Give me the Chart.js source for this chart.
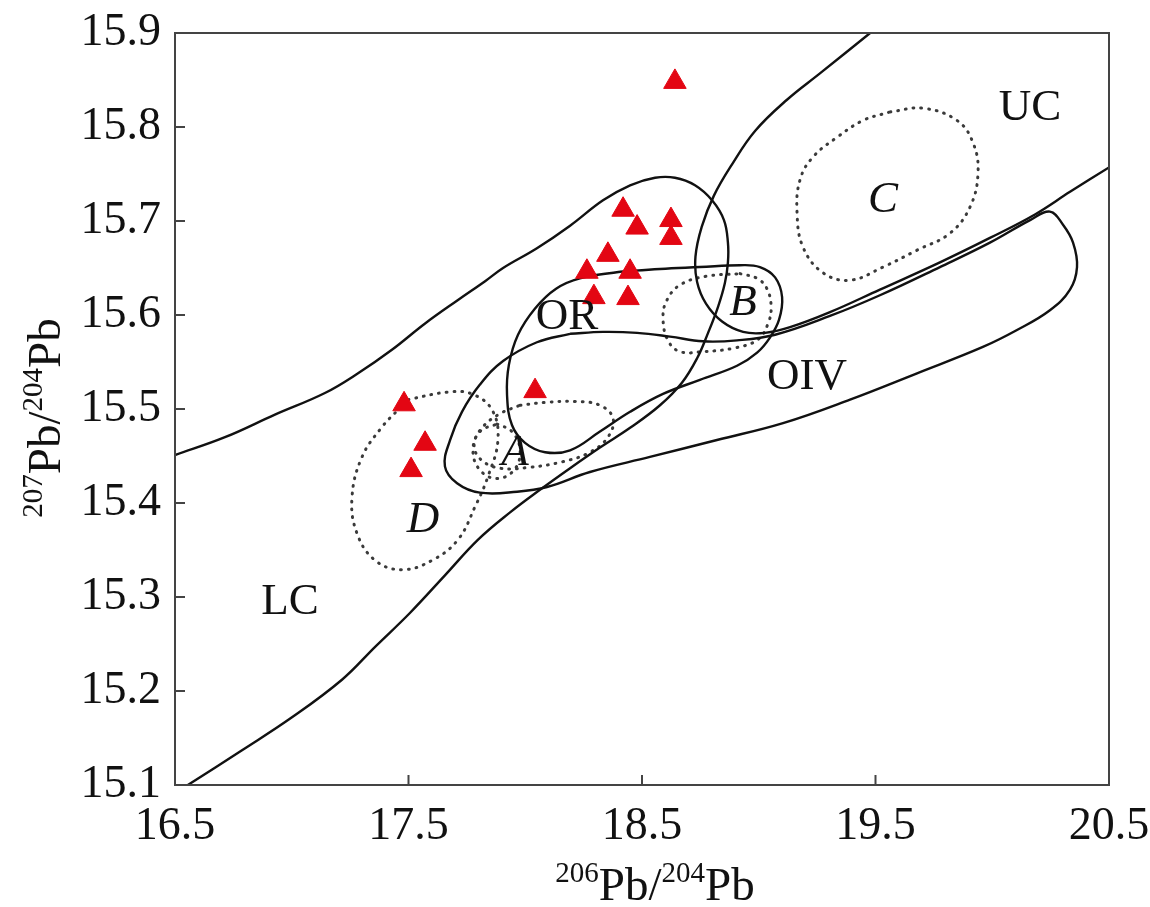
<!DOCTYPE html>
<html>
<head>
<meta charset="utf-8">
<script src="https://cdn.jsdelivr.net/npm/chart.js@4.4.1/dist/chart.umd.min.js"></script>
<style>
  html, body { margin: 0; padding: 0; background: #ffffff; }
  #wrap { width: 1150px; height: 907px; }
</style>
</head>
<body>
<div id="wrap"><canvas id="c" width="1150" height="907"></canvas></div>
<script>
// ---- axis ticks ----
const xTickValues = [16.5, 17.5, 18.5, 19.5, 20.5];
const yTickValues = [15.1, 15.2, 15.3, 15.4, 15.5, 15.6, 15.7, 15.8, 15.9];
// axis titles: pieces and whether each piece is a superscript
const xTitleParts = ['206', 'Pb/', '204', 'Pb'];
const yTitleParts = ['207', 'Pb/', '204', 'Pb'];
const titleSup = [true, false, true, false];

// ---- samples (red triangles): [206Pb/204Pb, 207Pb/204Pb] ----
const samples = [
  [18.641, 15.848], [18.419, 15.712], [18.479, 15.693], [18.624, 15.701],
  [18.624, 15.682], [18.354, 15.664], [18.264, 15.646], [18.449, 15.646],
  [18.294, 15.619], [18.440, 15.618], [18.042, 15.519], [17.481, 15.505],
  [17.571, 15.463], [17.511, 15.435]
];

// ---- field boundaries (solid) ----
const lcField = [
  [16.500, 15.451], [16.714, 15.470], [16.928, 15.494], [17.142, 15.517],
  [17.284, 15.538], [17.429, 15.563], [17.571, 15.591], [17.712, 15.616],
  [17.828, 15.636], [17.905, 15.650], [18.050, 15.671], [18.192, 15.695],
  [18.333, 15.722], [18.449, 15.738], [18.556, 15.746], [18.641, 15.746],
  [18.727, 15.738], [18.800, 15.722], [18.851, 15.701], [18.868, 15.677],
  [18.868, 15.656], [18.855, 15.634], [18.826, 15.609], [18.783, 15.581],
  [18.736, 15.554], [18.671, 15.528], [18.577, 15.504], [18.449, 15.480],
  [18.320, 15.459], [18.192, 15.437], [18.063, 15.414], [17.935, 15.390],
  [17.798, 15.361], [17.656, 15.323], [17.506, 15.283], [17.357, 15.247],
  [17.215, 15.212], [17.001, 15.172], [16.787, 15.137], [16.555, 15.100]
];
const ucField = [
  [19.477, 15.900], [19.262, 15.857], [19.121, 15.829], [18.985, 15.796],
  [18.885, 15.760], [18.808, 15.727], [18.756, 15.694], [18.729, 15.662],
  [18.736, 15.635], [18.774, 15.612], [18.843, 15.593], [18.933, 15.582],
  [19.027, 15.581], [19.134, 15.587], [19.305, 15.603], [19.519, 15.627],
  [19.776, 15.656], [19.990, 15.682], [20.183, 15.707], [20.333, 15.731],
  [20.500, 15.757]
];
const orField = [
  [18.406, 15.646], [18.577, 15.649], [18.748, 15.651], [18.920, 15.653],
  [19.005, 15.651], [19.070, 15.640], [19.100, 15.619], [19.087, 15.595],
  [19.048, 15.576], [18.993, 15.560], [18.907, 15.546], [18.748, 15.531],
  [18.590, 15.516], [18.449, 15.497], [18.320, 15.476], [18.192, 15.456],
  [18.085, 15.454], [17.999, 15.464], [17.943, 15.483], [17.922, 15.515],
  [17.930, 15.547], [17.969, 15.579], [18.042, 15.607], [18.132, 15.628],
  [18.234, 15.639], [18.406, 15.646]
];
const oivField = [
  [18.192, 15.580], [18.333, 15.582], [18.479, 15.581], [18.620, 15.577],
  [18.761, 15.572], [18.907, 15.573], [19.070, 15.579], [19.305, 15.599],
  [19.519, 15.621], [19.776, 15.651], [19.990, 15.677], [20.162, 15.701],
  [20.247, 15.710], [20.303, 15.696], [20.346, 15.677], [20.363, 15.651],
  [20.333, 15.627], [20.247, 15.605], [20.106, 15.584], [19.960, 15.566],
  [19.678, 15.538], [19.391, 15.510], [19.104, 15.485], [18.821, 15.467],
  [18.534, 15.449], [18.277, 15.433], [18.093, 15.417], [17.965, 15.412],
  [17.806, 15.411], [17.708, 15.421], [17.656, 15.439], [17.678, 15.467],
  [17.729, 15.497], [17.806, 15.526], [17.905, 15.551], [18.050, 15.571],
  [18.192, 15.580]
];

// ---- lead source fields (dotted) ----
const fieldA = [
  [17.978, 15.504], [18.085, 15.507], [18.213, 15.508], [18.320, 15.504],
  [18.376, 15.490], [18.354, 15.470], [18.277, 15.454], [18.162, 15.444],
  [18.020, 15.438], [17.892, 15.437], [17.811, 15.446], [17.781, 15.462],
  [17.815, 15.480], [17.892, 15.495], [17.978, 15.504]
];
const fieldAInner = [
  [17.879, 15.484], [17.943, 15.476], [17.978, 15.456], [17.952, 15.435],
  [17.879, 15.426], [17.806, 15.435], [17.776, 15.456], [17.806, 15.476],
  [17.879, 15.484]
];
const fieldB = [
  [18.920, 15.644], [18.993, 15.639], [19.035, 15.628], [19.053, 15.609],
  [19.040, 15.591], [18.997, 15.574], [18.898, 15.565], [18.761, 15.561],
  [18.663, 15.561], [18.611, 15.573], [18.590, 15.597], [18.607, 15.616],
  [18.663, 15.632], [18.770, 15.641], [18.920, 15.644]
];
const fieldC = [
  [19.562, 15.816], [19.703, 15.820], [19.849, 15.807], [19.918, 15.783],
  [19.939, 15.751], [19.905, 15.715], [19.819, 15.687], [19.678, 15.669],
  [19.532, 15.651], [19.391, 15.637], [19.275, 15.645], [19.190, 15.672],
  [19.164, 15.709], [19.177, 15.744], [19.232, 15.768], [19.335, 15.789],
  [19.447, 15.807], [19.562, 15.816]
];
const fieldD = [
  [17.498, 15.510], [17.669, 15.518], [17.772, 15.516], [17.858, 15.499],
  [17.883, 15.467], [17.840, 15.428], [17.785, 15.396], [17.712, 15.361],
  [17.601, 15.339], [17.472, 15.329], [17.357, 15.339], [17.279, 15.368],
  [17.258, 15.406], [17.301, 15.449], [17.387, 15.481], [17.455, 15.499],
  [17.498, 15.510]
];

// ---- text labels ----
const fieldNames = ['UC', 'LC', 'OR', 'OIV'];
const fieldNameX = [20.162, 16.993, 18.179, 19.207];
const fieldNameY = [15.820, 15.294, 15.598, 15.534];
const sourceNames = ['A', 'B', 'C', 'D'];
const sourceNameX = [17.956, 18.933, 19.532, 17.562];
const sourceNameY = [15.453, 15.613, 15.722, 15.382];

const toPts = arr => arr.map(p => ({ x: p[0], y: p[1] }));

const SERIF = '"Liberation Serif", "Times New Roman", serif';

function solid(label, arr) {
  return {
    label, data: toPts(arr), showLine: true, pointRadius: 0, pointHoverRadius: 0,
    borderColor: '#111111', borderWidth: 2.4, tension: 0.4, fill: false
  };
}
function dotted(label, arr) {
  return {
    label, data: toPts(arr), showLine: true, pointRadius: 0, pointHoverRadius: 0,
    borderColor: '#3a3a3a', borderWidth: 3, borderDash: [0.8, 7], borderCapStyle: 'round',
    tension: 0.4, fill: false
  };
}

function drawRichTitle(ctx, parts, centerX, baseline) {
  const mainFont = '47px ' + SERIF;
  const supFont = '29px ' + SERIF;
  const widths = parts.map((t, i) => {
    ctx.font = titleSup[i] ? supFont : mainFont;
    return ctx.measureText(t).width;
  });
  const total = widths.reduce((s, w) => s + w, 0);
  let x = centerX - total / 2;
  ctx.textAlign = 'left';
  ctx.textBaseline = 'alphabetic';
  parts.forEach((t, i) => {
    ctx.font = titleSup[i] ? supFont : mainFont;
    ctx.fillText(t, x, titleSup[i] ? baseline - 18 : baseline);
    x += widths[i];
  });
}

const framePlugin = {
  id: 'frame',
  afterDatasetsDraw(chart) {
    const { ctx, scales } = chart;
    ctx.save();
    ctx.fillStyle = '#111111';
    ctx.textAlign = 'center';
    ctx.textBaseline = 'middle';
    ctx.font = '45px ' + SERIF;
    fieldNames.forEach((t, i) => {
      ctx.fillText(t, scales.x.getPixelForValue(fieldNameX[i]), scales.y.getPixelForValue(fieldNameY[i]));
    });
    ctx.font = 'italic 45px ' + SERIF;
    sourceNames.forEach((t, i) => {
      ctx.fillText(t, scales.x.getPixelForValue(sourceNameX[i]), scales.y.getPixelForValue(sourceNameY[i]));
    });
    ctx.restore();
  },
  afterDraw(chart) {
    const { ctx, chartArea: a, scales } = chart;
    ctx.save();
    ctx.strokeStyle = '#444444';
    ctx.lineWidth = 2;
    ctx.strokeRect(a.left, a.top, a.right - a.left, a.bottom - a.top);
    ctx.beginPath();
    yTickValues.slice(1, -1).forEach(v => {
      const y = scales.y.getPixelForValue(v);
      ctx.moveTo(a.left, y); ctx.lineTo(a.left + 10, y);
    });
    xTickValues.slice(1, -1).forEach(v => {
      const x = scales.x.getPixelForValue(v);
      ctx.moveTo(x, a.bottom); ctx.lineTo(x, a.bottom - 10);
    });
    ctx.stroke();

    // axis titles with superscript mass numbers
    ctx.fillStyle = '#111111';
    drawRichTitle(ctx, xTitleParts, (a.left + a.right) / 2 + 13, 900);
    ctx.save();
    ctx.translate(60, (a.top + a.bottom) / 2 + 9);
    ctx.rotate(-Math.PI / 2);
    drawRichTitle(ctx, yTitleParts, 0, 0);
    ctx.restore();
    ctx.restore();
  }
};

const datasets = [
  {
    label: 'samples', data: toPts(samples), showLine: false,
    pointStyle: 'triangle', pointRadius: 13, pointHoverRadius: 13,
    backgroundColor: '#e30613', borderColor: '#e30613', borderWidth: 1
  },
  solid('LC', lcField),
  solid('UC', ucField),
  solid('OR', orField),
  solid('OIV', oivField),
  dotted('A', fieldA),
  dotted('A inner', fieldAInner),
  dotted('B', fieldB),
  dotted('C', fieldC),
  dotted('D', fieldD)
];

new Chart(document.getElementById('c'), {
  type: 'scatter',
  data: { datasets },
  options: {
    responsive: false,
    animation: false,
    devicePixelRatio: 1,
    layout: { autoPadding: false, padding: { left: 0, right: 41, top: 33, bottom: 0 } },
    plugins: { legend: { display: false }, tooltip: { enabled: false } },
    scales: {
      x: {
        type: 'linear', min: 16.5, max: 20.5,
        afterBuildTicks: s => { s.ticks = xTickValues.map(v => ({ value: v })); },
        afterFit: s => { s.height = 122; s.paddingLeft = 0; s.paddingRight = 0; },
        grid: { display: false, drawTicks: false },
        border: { display: false },
        ticks: {
          color: '#111111', padding: 14, maxRotation: 0, autoSkip: false,
          font: { family: SERIF, size: 46 },
          callback: v => Number(v).toFixed(1)
        },
        title: { display: false }
      },
      y: {
        type: 'linear', min: 15.1, max: 15.9,
        afterBuildTicks: s => { s.ticks = yTickValues.map(v => ({ value: v })); },
        afterFit: s => { s.width = 175; s.paddingTop = 0; s.paddingBottom = 0; },
        grid: { display: false, drawTicks: false },
        border: { display: false },
        ticks: {
          color: '#111111', padding: 14, autoSkip: false,
          font: { family: SERIF, size: 46 },
          callback: v => Number(v).toFixed(1)
        },
        title: { display: false }
      }
    }
  },
  plugins: [framePlugin]
});
</script>
</body>
</html>
